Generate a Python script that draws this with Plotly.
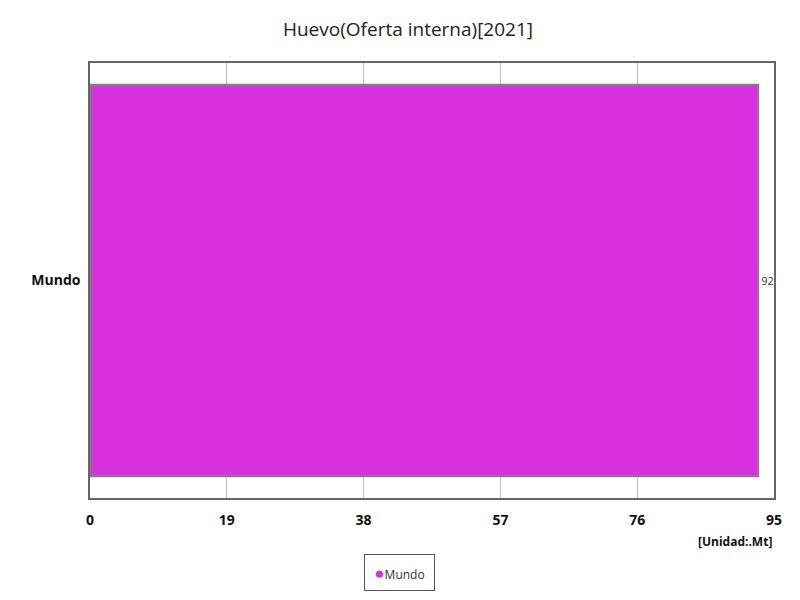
import plotly.graph_objects as go

categories = ["Mundo"]
values = [92.8]
tick_vals = [0, 19, 38, 57, 76, 95]
bar_color = "#d930e0"

fig = go.Figure()
fig.add_trace(go.Bar(
    y=categories, x=values, orientation="h", name=categories[0],
    marker=dict(color=bar_color, line=dict(color="#808080", width=2)),
    text=[f"{v:g}" for v in values], textposition="outside",
    textfont=dict(size=11, color="#333"),
    cliponaxis=True, width=0.9, showlegend=False,
))
legend_text = (f"<span style='color:{bar_color};font-size:17px'>●</span>"
               f"{categories[0]}")
fig.update_layout(
    width=800, height=600,
    font=dict(family="Open Sans, sans-serif", color="#000"),
    title=dict(text="Huevo(Oferta interna)[2021]", x=0.5, xanchor="center", y=0.975,
               font=dict(size=19, color="#222")),
    plot_bgcolor="white", paper_bgcolor="white",
    margin=dict(l=82, r=34, t=55, b=110, autoexpand=False),
    xaxis=dict(range=[0, 95], tickvals=tick_vals, showgrid=True, gridcolor="#c0c0c0",
               gridwidth=1, zeroline=False, showline=True, linecolor="#666", linewidth=1.5,
               mirror=True, tickfont=dict(size=14, color="#111", weight="bold"),
               ticks="", ticklabelstandoff=8),
    yaxis=dict(showline=True, linecolor="#666", linewidth=1.5, mirror=True, showgrid=False,
               tickfont=dict(size=14, color="#111", weight="bold"), ticks="", ticklabelstandoff=5),
    showlegend=False,
    annotations=[
        dict(text="<b>[Unidad:.Mt]</b>", xref="paper", yref="paper", x=1.0, y=-0.075,
             xanchor="right", yanchor="top", showarrow=False,
             font=dict(size=12, color="#111")),
        dict(text=legend_text, xref="paper", yref="paper", x=0.453, y=-0.172,
             xanchor="center", yanchor="middle", showarrow=False,
             width=63, height=29, borderpad=3, bordercolor="#555", borderwidth=1,
             font=dict(size=12, color="#333")),
    ],
)
fig.write_html("out.html")
